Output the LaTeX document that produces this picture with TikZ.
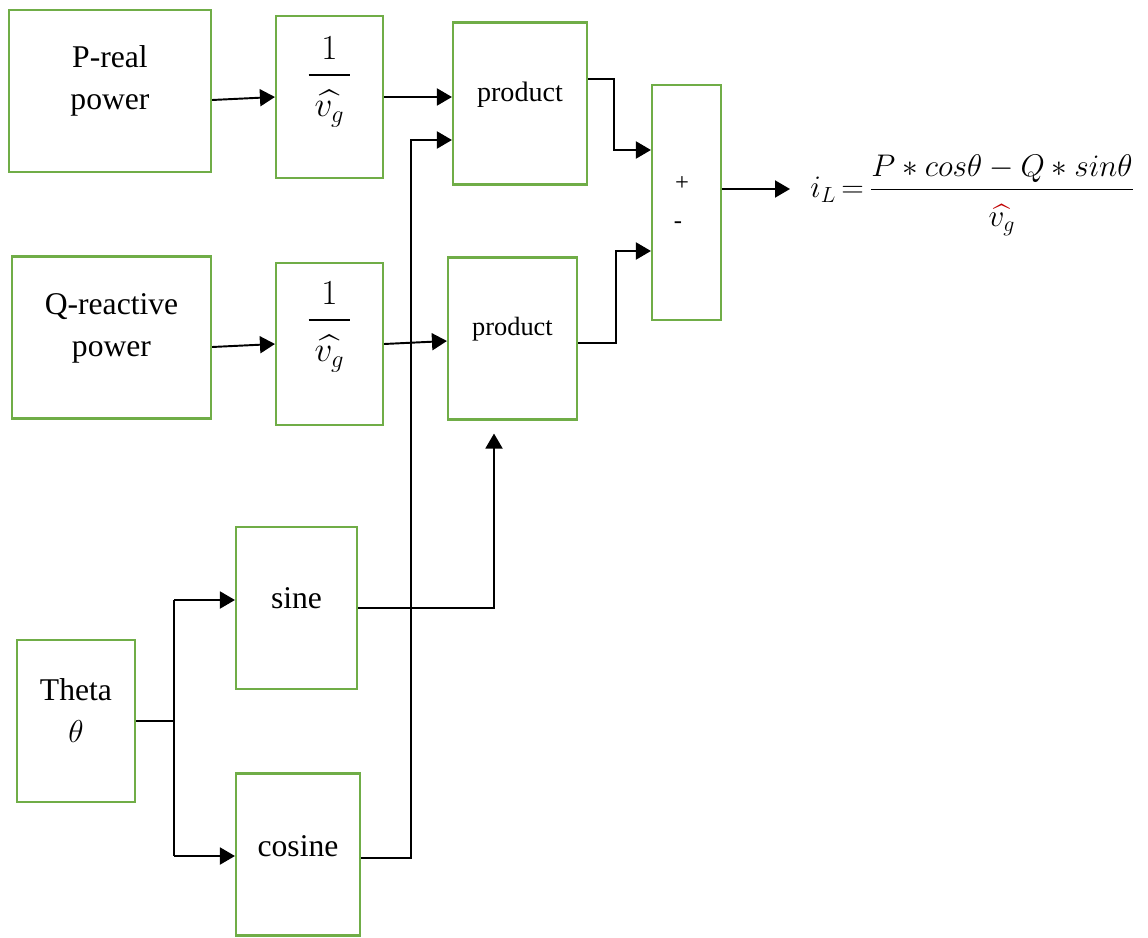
\RequirePackage{fix-cm}
\documentclass[tikz,border=0pt]{standalone}
\usepackage{amsmath}
\usepackage[no-math]{fontspec}
\setmainfont{Liberation Serif}
\newfontfamily\tnr{Liberation Serif}
\usetikzlibrary{arrows.meta}
\definecolor{boxgreen}{RGB}{112,173,71}
\definecolor{hatred}{RGB}{192,0,0}

\begin{document}
\begin{tikzpicture}[
    blk/.style={draw=boxgreen, line width=1.2pt, minimum width=#1, minimum height=3.24cm, inner sep=0pt},
    txt/.style={align=center, font=\tnr\fontsize{18}{24}\selectfont},
    frc/.style={font=\fontsize{20}{24}\selectfont},
    sgn/.style={font=\tnr\fontsize{14}{16}\selectfont},
    line/.style={line width=1.1pt},
    arr/.style={line, -{Triangle[length=0.3cm, width=0.34cm]}}
  ]
    % 画布大小
    \useasboundingbox (0,0) rectangle (22.96,-18.74);

    % 方框
    \node[blk=4.04cm] (preal) at (2.2,-1.82) {};
    \node[blk=2.14cm] (invp) at (6.59,-1.94) {};
    \node[blk=2.68cm] (prodp) at (10.4,-2.07) {};
    \node[blk=1.38cm, minimum height=4.7cm] (sum) at (13.73,-4.05) {};
    \node[blk=3.98cm] (qreac) at (2.23,-6.75) {};
    \node[blk=2.14cm] (invq) at (6.59,-6.88) {};
    \node[blk=2.58cm] (prodq) at (10.25,-6.77) {};
    \node[blk=2.42cm] (sine) at (5.93,-12.16) {};
    \node[blk=2.36cm] (theta) at (1.52,-14.42) {};
    \node[blk=2.48cm] (cosine) at (5.96,-17.09) {};

    % 方框中的文字
    \node[txt] (prealtxt) at ([yshift=0.2cm]preal.center) {P-real\\power};
    \node[frc] (invptxt) at ([yshift=0.3cm]invp.center) {$\dfrac{1}{\rule{0pt}{1.05em}\,\widehat{v_g}\,}$};
    \node[txt, font=\tnr\fontsize{16}{20}\selectfont] (prodptxt) at ([yshift=0.17cm]prodp.center) {product};
    \node[sgn] (plus) at ([xshift=-0.09cm, yshift=0.37cm]sum.center) {+};
    \node[sgn] (minus) at ([xshift=-0.17cm, yshift=-0.45cm]sum.center) {-};
    \node[txt] (qreactxt) at ([yshift=0.19cm]qreac.center) {Q-reactive\\power};
    \node[frc] (invqtxt) at ([yshift=0.34cm]invq.center) {$\dfrac{1}{\rule{0pt}{1.05em}\,\widehat{v_g}\,}$};
    \node[txt, font=\tnr\fontsize{15}{20}\selectfont] (prodqtxt) at ([yshift=0.19cm]prodq.center) {product};
    \node[txt] (sinetxt) at ([yshift=0.2cm]sine.center) {sine};
    \node[txt] (thetatxt) at ([yshift=0.21cm]theta.center) {Theta\\$\theta$};
    \node[txt] (cosinetxt) at ([yshift=0.17cm]cosine.center) {cosine};

    % 输出公式
    \node[anchor=west, inner xsep=0.4cm, font=\fontsize{17.8}{22}\selectfont] (iL) at (15.8,-3.9)
      {$\displaystyle i_L \mathrel{\mkern-2mu=\mkern-2mu} \frac{P*cos\theta - Q*sin\theta}{\rule{0pt}{1.05em}\textcolor{hatred}{\widehat{\textcolor{black}{v_g}}}}$};

    % 连线
    \draw[arr] ([yshift=-0.18cm]preal.east) -- (invp.west);
    \draw[arr] (invp.east) -- (invp.east -| prodp.west);
    \draw[arr] ([yshift=0.49cm]prodp.east) -- ++(0.52,0) |- ([yshift=1.05cm]sum.west);
    \draw[arr] ([yshift=-0.19cm]qreac.east) -- (invq.west);
    \draw[arr] (invq.east) -- ([yshift=-0.05cm]prodq.west);
    \draw[arr] ([yshift=-0.09cm]prodq.east) -- ++(0.76,0) |- ([yshift=-0.97cm]sum.west);
    \coordinate (sumout) at ([yshift=0.27cm]sum.east);
    \draw[arr] (sumout) -- (sumout -| iL.west);

    % theta 分支
    \draw[line] (theta.east) -- ++(0.76,0) coordinate (split);
    \draw[line] ([yshift=0.16cm]sine.west -| split) -- ([yshift=-0.03cm]cosine.west -| split);
    \draw[arr] ([yshift=0.16cm]sine.west -| split) -- ([yshift=0.16cm]sine.west);
    \draw[arr] ([yshift=-0.03cm]cosine.west -| split) -- ([yshift=-0.03cm]cosine.west);

    % sin 与 cos 送入乘法器
    \draw[arr] (sine.east) -| ([xshift=-0.37cm, yshift=-0.26cm]prodq.south);
    \draw[arr] ([yshift=-0.07cm]cosine.east) -- ++(1.0,0) |- ([yshift=-0.73cm]prodp.west);

  \end{tikzpicture}
\end{document}
